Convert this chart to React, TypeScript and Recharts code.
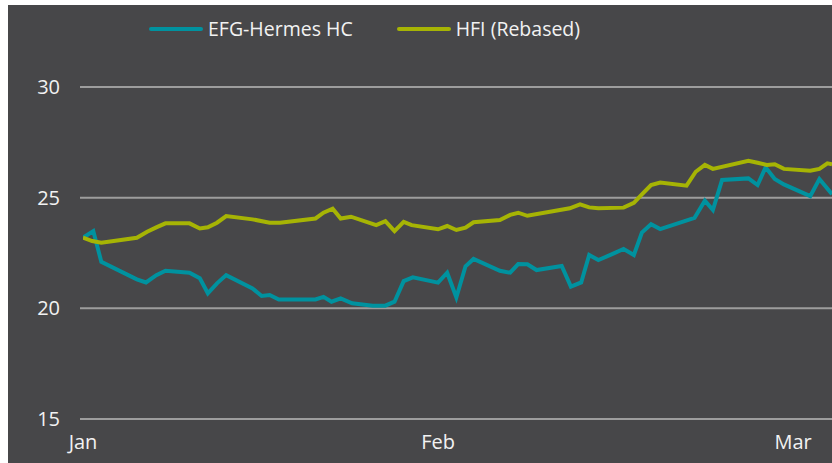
import { LineChart, Line, XAxis, YAxis, CartesianGrid } from 'recharts'

// day offsets from 1 Jan
const efgDays = [0, 0.9, 1.6, 4.7, 5.5, 6.4, 7.2, 9.3, 10.2, 10.9, 11.7, 12.5, 14.8, 15.6, 16.3, 17.1, 20.3, 21.0, 21.7, 22.5, 23.5, 25.3, 26.4, 27.2, 28.0, 28.8, 31.0, 31.8, 32.6, 33.4, 34.1, 36.4, 37.3, 38.0, 38.8, 39.6, 41.8, 42.6, 43.5, 44.2, 45.0, 46.0, 47.2, 48.1, 48.8, 49.6, 50.4, 53.4, 54.3, 55.0, 55.8, 58.1, 58.9, 59.6, 60.4, 61.2, 63.5, 64.3, 65.4]
const efgValues = [23.19, 23.49, 22.1, 21.31, 21.17, 21.5, 21.7, 21.61, 21.36, 20.68, 21.13, 21.5, 20.9, 20.56, 20.6, 20.4, 20.4, 20.52, 20.3, 20.45, 20.23, 20.12, 20.12, 20.3, 21.23, 21.4, 21.16, 21.61, 20.49, 21.9, 22.23, 21.7, 21.61, 22.0, 21.99, 21.73, 21.91, 20.98, 21.17, 22.41, 22.18, 22.4, 22.68, 22.41, 23.42, 23.8, 23.58, 24.09, 24.86, 24.44, 25.8, 25.87, 25.57, 26.37, 25.84, 25.6, 25.07, 25.84, 25.16]

const hfiDays = [0, 0.8, 1.6, 4.7, 5.6, 6.4, 7.2, 9.3, 10.2, 10.9, 11.7, 12.5, 14.8, 16.3, 17.2, 20.3, 21.0, 21.8, 22.5, 23.4, 25.6, 26.4, 27.2, 28.0, 28.7, 31.0, 31.8, 32.6, 33.4, 34.1, 36.4, 37.3, 38.0, 38.8, 42.5, 43.4, 44.2, 45.0, 47.2, 48.1, 48.8, 49.6, 50.4, 52.7, 53.5, 54.3, 55.0, 58.1, 58.9, 59.7, 60.4, 61.2, 63.5, 64.3, 65.0, 65.4]
const hfiValues = [23.19, 23.04, 22.96, 23.19, 23.46, 23.66, 23.84, 23.84, 23.61, 23.66, 23.87, 24.17, 24.02, 23.87, 23.87, 24.06, 24.32, 24.5, 24.06, 24.14, 23.76, 23.94, 23.49, 23.91, 23.76, 23.57, 23.72, 23.54, 23.64, 23.89, 23.99, 24.22, 24.32, 24.18, 24.52, 24.7, 24.56, 24.52, 24.55, 24.77, 25.15, 25.57, 25.68, 25.54, 26.17, 26.48, 26.3, 26.67, 26.58, 26.48, 26.51, 26.3, 26.22, 26.3, 26.55, 26.51]

const monthTicks = [0, 31, 62]
const monthLabels = ['Jan', 'Feb', 'Mar']
const yTicks = [15, 20, 25, 30]

const efgData = efgDays.map((d, i) => ({ day: d, value: efgValues[i] }))
const hfiData = hfiDays.map((d, i) => ({ day: d, value: hfiValues[i] }))

const TEAL = '#00929f'
const OLIVE = '#a6b404'
const TEXT = '#f2f2f2'
const FONT = '"Open Sans", sans-serif'

const series = [
  { name: 'EFG-Hermes HC', color: TEAL },
  { name: 'HFI (Rebased)', color: OLIVE },
]

function LegendBox() {
  return (
    <div style={{ position: 'absolute', top: 10, left: 141, display: 'flex', alignItems: 'center', fontFamily: FONT, fontSize: 19.5, color: TEXT, lineHeight: '28px' }}>
      {series.map((s, i) => (
        <div key={s.name} style={{ display: 'flex', alignItems: 'center', marginRight: i === 0 ? 44 : 0 }}>
          <span style={{ display: 'inline-block', width: 54, height: 4, borderRadius: 2, background: s.color, marginRight: 5 }} />
          <span>{s.name}</span>
        </div>
      ))}
    </div>
  )
}

export default function App() {
  return (
    <div style={{ position: 'absolute', top: 5, left: 8, width: 824, height: 458, background: '#474749' }}>
      <LegendBox />
      <LineChart width={824} height={458} margin={{ top: 82, right: 0, bottom: 0, left: 0 }}>
        <CartesianGrid vertical={false} stroke="#9d9d9d" strokeWidth={2} />
        <XAxis
          type="number"
          dataKey="day"
          domain={[0, 65.4]}
          ticks={monthTicks}
          tickFormatter={(v) => monthLabels[monthTicks.indexOf(v)]}
          padding={{ left: 3, right: 0 }}
          axisLine={false}
          tickLine={false}
          tickSize={0}
          tickMargin={16}
          height={44}
          allowDataOverflow
          tick={{ fill: TEXT, fontSize: 20, fontFamily: FONT }}
        />
        <YAxis
          domain={[15, 30]}
          ticks={yTicks}
          axisLine={false}
          tickLine={false}
          tickSize={0}
          tickMargin={20}
          width={72}
          tick={{ fill: TEXT, fontSize: 20, fontFamily: FONT }}
        />
        <Line data={efgData} dataKey="value" name="EFG-Hermes HC" stroke={TEAL} strokeWidth={4} dot={false} isAnimationActive={false} />
        <Line data={hfiData} dataKey="value" name="HFI (Rebased)" stroke={OLIVE} strokeWidth={4} dot={false} isAnimationActive={false} />
      </LineChart>
    </div>
  )
}
